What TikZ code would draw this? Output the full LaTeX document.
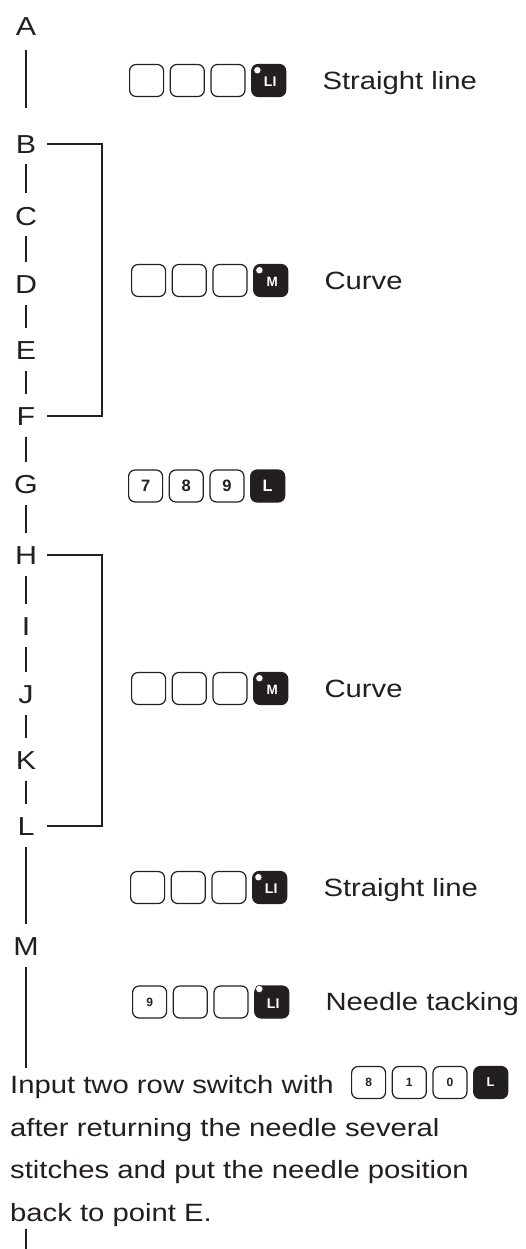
\documentclass[tikz,border=0pt]{standalone}
\usepackage{fontspec}
\setmainfont{Liberation Sans}[FakeStretch=1.17]
\newfontfamily\keyfont{Liberation Sans}
\usetikzlibrary{positioning}
\definecolor{ink}{HTML}{231F20}
\newcommand{\dotlbl}[1]{\hspace*{3pt}\raisebox{-1.5pt}[\height][\depth]{#1}}
\newcommand{\keyrow}[7]{%
  \node[key=#3, anchor=west] (#1a) at (#2) {#4};
  \node[key=#3, right=5.5pt of #1a] (#1b) {#5};
  \node[key=#3, right=5.5pt of #1b] (#1c) {#6};
  \node[blackkey, right=5.5pt of #1c] (#1d) {#7};}
\tikzset{
  letter/.style={font=\fontsize{26}{26}\selectfont, text=ink, inner sep=0pt, text height=18.6pt, text depth=0pt},
  caption/.style={font=\fontsize{25}{25}\selectfont, text=ink, inner sep=0pt, text height=17.9pt, text depth=0pt},
  note/.style={font=\fontsize{25}{42.7}\selectfont, text=ink, inner sep=0pt, align=left},
  link/.style={ink, line width=1.8pt, shorten <=11pt, shorten >=13pt},
  bracket/.style={ink, line width=1.8pt, line join=miter},
  key/.style={draw=ink, line width=1.2pt, rounded corners=6.5pt, minimum width=34pt, minimum height=32pt, inner sep=0pt, text=ink, font=\keyfont\bfseries\fontsize{#1}{#1}\selectfont},
  key/.default=12,
  blackkey/.style={key=#1, fill=ink, text=white},
  blackkey/.default=14,
  keydot/.style={fill=white, draw=ink, line width=0.6pt}
}
\begin{document}
\begin{tikzpicture}[x=1pt, y=-1pt]
\useasboundingbox[fill=white] (0,0) rectangle (525,1249);
\foreach \n/\y in {A/26, B/144, C/216, D/284, E/350, F/416, G/484, H/555, I/626, J/694, K/760, L/826, M/946}
  \node[letter] (\n) at (26,\y) {\n};
\draw[link, shorten <=14.7pt, shorten >=26.7pt] (A) -- (B);
\foreach \a/\b in {B/C, C/D, D/E, E/F, F/G, G/H, H/I, I/J, J/K, K/L, L/M}
  \draw[link] (\a) -- (\b);

\coordinate (bin) at (47,0);
\coordinate (bout) at (102,0);
\draw[bracket] (B -| bin) -- (B -| bout) -- (F -| bout) -- (F -| bin);
\draw[bracket] (H -| bin) -- (H -| bout) -- (L -| bout) -- (L -| bin);

\keyrow{r1}{129,80.5}{12}{}{}{}{\dotlbl{LI}}
\keyrow{r2}{131,280.5}{12}{}{}{}{\dotlbl{{\fontsize{13.5}{13.5}\selectfont M}}}
\keyrow{r3}{128,486}{16.5}{7}{8}{9}{{\fontsize{16.5}{16.5}\selectfont L}}
\keyrow{r4}{131,688.5}{12}{}{}{}{\dotlbl{{\fontsize{13.5}{13.5}\selectfont M}}}
\keyrow{r5}{130,887.5}{12}{}{}{}{\dotlbl{LI}}
\keyrow{r6}{132,1002}{12}{9}{}{}{\dotlbl{LI}}
\foreach \k in {r1d, r2d, r4d, r5d}
  \filldraw[keydot] ([xshift=6.3pt, yshift=-6.3pt]\k.north west) circle (3.7pt);
\filldraw[keydot] ([xshift=5.2pt, yshift=-3.6pt]r6d.north west) circle (3.7pt);

\node[caption, right=36pt of r1d] (lab1) {Straight line};
\node[caption, right=36pt of r2d] (lab2) {Curve};
\node[caption, right=36pt of r4d] (lab4) {Curve};
\node[caption, right=36pt of r5d] (lab5) {Straight line};
\node[caption, right=36pt of r6d] (lab6) {Needle tacking};

\node[note, anchor=north west] (note) at (10,1075) {Input two row switch with\\after returning the needle several\\stitches and put the needle position\\back to point E.};
\keyrow{r7}{351,1082.5}{12}{8}{1}{0}{{\fontsize{13}{13}\selectfont L}}
\coordinate (tail) at (26,1249);
\draw[link, shorten >=6.7pt] (M) -- (M |- note.north);
\draw[link, shorten <=1.7pt, shorten >=0pt] (M |- note.south) -- (tail);
\end{tikzpicture}
\end{document}
